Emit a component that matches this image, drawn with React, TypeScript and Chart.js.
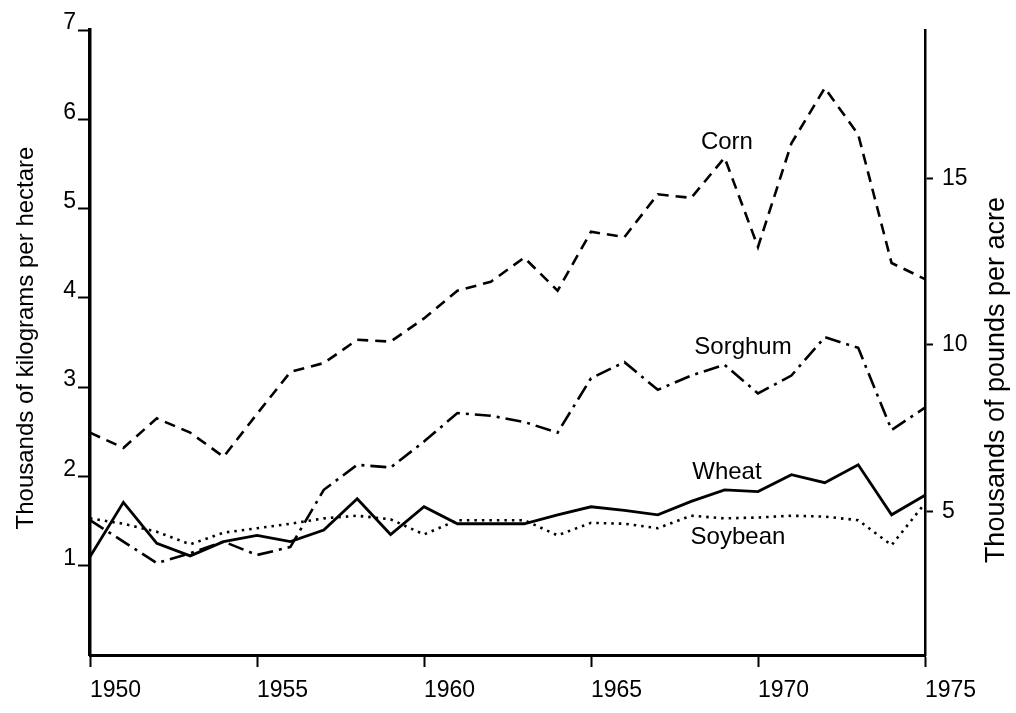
import { useEffect, useRef } from "react";
import { Chart, registerables } from "chart.js";

Chart.register(...registerables);

const years = [
  1950, 1951, 1952, 1953, 1954, 1955, 1956, 1957, 1958, 1959, 1960, 1961, 1962,
  1963, 1964, 1965, 1966, 1967, 1968, 1969, 1970, 1971, 1972, 1973, 1974, 1975,
];
const corn = [
  2.49, 2.32, 2.65, 2.49, 2.22, 2.7, 3.17, 3.27, 3.53, 3.51, 3.77, 4.08, 4.18,
  4.45, 4.08, 4.74, 4.68, 5.16, 5.12, 5.57, 4.57, 5.73, 6.35, 5.83, 4.39, 4.21,
];
const sorghum = [
  1.51, 1.27, 1.03, 1.14, 1.27, 1.12, 1.21, 1.85, 2.13, 2.1, 2.39, 2.71, 2.68,
  2.61, 2.49, 3.1, 3.28, 2.97, 3.13, 3.25, 2.93, 3.13, 3.56, 3.44, 2.52, 2.77,
];
const wheat = [
  1.1, 1.71, 1.25, 1.11, 1.27, 1.34, 1.27, 1.4, 1.75, 1.35, 1.66, 1.47, 1.47,
  1.47, 1.57, 1.66, 1.62, 1.57, 1.72, 1.85, 1.83, 2.02, 1.93, 2.13, 1.57, 1.79,
];
const soybean = [
  1.53, 1.47, 1.38, 1.24, 1.37, 1.42, 1.47, 1.53, 1.56, 1.52, 1.35, 1.51, 1.51,
  1.51, 1.34, 1.48, 1.47, 1.42, 1.56, 1.53, 1.54, 1.56, 1.55, 1.51, 1.23, 1.7,
];

const leftTicks = [1, 2, 3, 4, 5, 6, 7];
const rightTicks = [5, 10, 15];
const xTicks = [1950, 1955, 1960, 1965, 1970, 1975];

const seriesLabels = ["Corn", "Sorghum", "Wheat", "Soybean"];
const labelYears = [1969.07, 1969.55, 1969.07, 1969.4];
const labelValues = [5.74, 3.45, 2.04, 1.32];

const leftTitle = "Thousands of kilograms per hectare";
const rightTitle = "Thousands of pounds per acre";

const FONT = '"Liberation Sans", Arial, Helvetica, sans-serif';

export default function App() {
  const ref = useRef<HTMLCanvasElement | null>(null);

  useEffect(() => {
    document.body.style.margin = "0";
    const canvas = ref.current;
    if (!canvas) return;

    const pts = (arr: number[]) => years.map((y, i) => ({ x: y, y: arr[i] }));

    const textPlugin = {
      id: "texts",
      afterDraw(chart: any) {
        const { ctx, scales } = chart;
        ctx.save();
        ctx.fillStyle = "#000";
        ctx.textAlign = "center";
        ctx.textBaseline = "middle";
        ctx.font = `24px ${FONT}`;
        seriesLabels.forEach((t, i) => {
          ctx.fillText(
            t,
            scales.x.getPixelForValue(labelYears[i]),
            scales.y.getPixelForValue(labelValues[i])
          );
        });
        ctx.save();
        ctx.font = `24px ${FONT}`;
        ctx.translate(26, 338);
        ctx.rotate(-Math.PI / 2);
        ctx.fillText(leftTitle, 0, 0);
        ctx.restore();
        ctx.save();
        ctx.font = `27px ${FONT}`;
        ctx.translate(997, 380);
        ctx.rotate(-Math.PI / 2);
        ctx.fillText(rightTitle, 0, 0);
        ctx.restore();
        ctx.restore();
      },
    };

    const common = {
      borderColor: "#000",
      backgroundColor: "#000",
      pointRadius: 0,
      fill: false,
      tension: 0,
      clip: false as any,
    };

    const chart = new Chart(canvas, {
      type: "line",
      data: {
        datasets: [
          { ...common, label: "Corn", data: pts(corn), borderWidth: 2.6, borderDash: [11, 7] },
          { ...common, label: "Sorghum", data: pts(sorghum), borderWidth: 2.6, borderDash: [16, 6, 3, 6] },
          { ...common, label: "Wheat", data: pts(wheat), borderWidth: 2.8 },
          { ...common, label: "Soybean", data: pts(soybean), borderWidth: 2.6, borderDash: [2.5, 5], borderCapStyle: "butt" },
        ],
      },
      options: {
        animation: false,
        responsive: false,
        devicePixelRatio: 1,
        layout: { padding: { top: 30, left: 0, right: 0, bottom: 0 } },
        plugins: { legend: { display: false }, tooltip: { enabled: false } },
        scales: {
          x: {
            type: "linear",
            min: 1950,
            max: 1975,
            afterBuildTicks: (s: any) => {
              s.ticks = xTicks.map((v) => ({ value: v }));
            },
            afterFit: (s: any) => {
              s.height = 58;
            },
            ticks: {
              color: "#000",
              font: { family: FONT, size: 23 },
              padding: 10,
              align: "start",
              maxRotation: 0,
              autoSkip: false,
              callback: (v: any) => String(v),
            },
            grid: { drawOnChartArea: false, drawTicks: true, tickLength: 12, tickWidth: 2, color: "#000" },
            border: { display: true, width: 3, color: "#000" },
          },
          y: {
            type: "linear",
            position: "left",
            min: 0,
            max: 7,
            afterBuildTicks: (s: any) => {
              s.ticks = leftTicks.map((v) => ({ value: v }));
            },
            afterFit: (s: any) => {
              s.width = 90;
            },
            ticks: {
              color: "#000",
              font: { family: FONT, size: 23 },
              padding: 2,
              labelOffset: -7,
              callback: (v: any) => String(v),
            },
            grid: { drawOnChartArea: false, drawTicks: true, tickLength: 12, tickWidth: 2, color: "#000" },
            border: { display: true, width: 3.5, color: "#000" },
          },
          y2: {
            type: "linear",
            position: "right",
            min: 0.69,
            max: 19.46,
            afterBuildTicks: (s: any) => {
              s.ticks = rightTicks.map((v) => ({ value: v }));
            },
            afterFit: (s: any) => {
              s.width = 91;
            },
            ticks: {
              color: "#000",
              font: { family: FONT, size: 23 },
              padding: 9,
              callback: (v: any) => String(v),
            },
            grid: { drawOnChartArea: false, drawTicks: true, tickLength: 8, tickWidth: 2, color: "#000" },
            border: { display: true, width: 2.5, color: "#000" },
          },
        },
      },
      plugins: [textPlugin],
    });

    return () => chart.destroy();
  }, []);

  return (
    <div style={{ position: "absolute", left: 0, top: 0, width: 1016, height: 713, background: "#fff" }}>
      <canvas ref={ref} width={1016} height={713} style={{ width: 1016, height: 713, display: "block" }} />
    </div>
  );
}
